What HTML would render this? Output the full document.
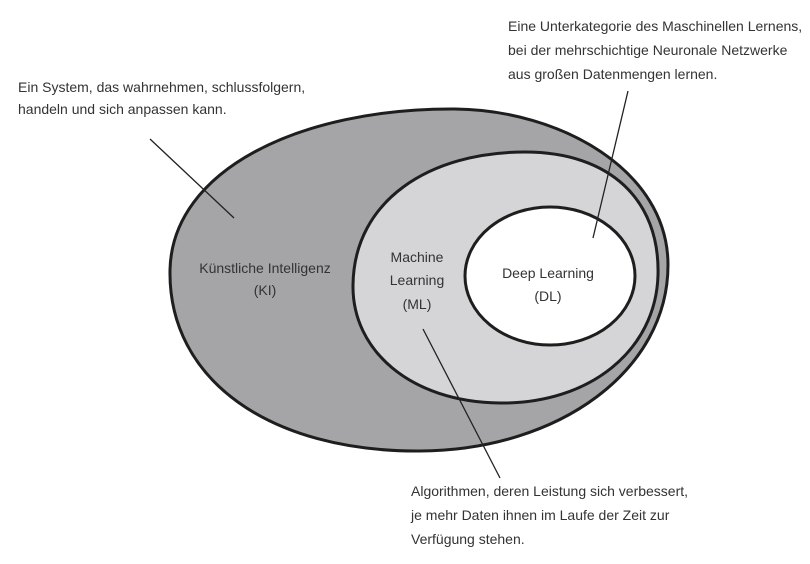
<!DOCTYPE html>
<html><head><meta charset="utf-8"><style>
html,body{margin:0;padding:0;background:#fff;}
svg{display:block;}
text{font-family:"Liberation Sans Narrow","Liberation Sans",sans-serif;fill:#333;font-size:14px;}
</style></head><body>
<svg width="810" height="564" viewBox="0 0 810 564">
<path d="M455,109 C560,110 668,170 668,265 C668,370 560,450 420,451 C270,452 168,380 170,270 C172,170 300,108 455,109 Z" fill="#a5a5a7" stroke="#1e1e1e" stroke-width="3"/>
<path d="M525,152 C610,152 660,200 658,275 C656,350 590,404 500,403 C410,402 352,350 353,285 C354,200 430,152 525,152 Z" fill="#d5d5d7" stroke="#1e1e1e" stroke-width="3"/>
<ellipse cx="550" cy="276" rx="85" ry="69" fill="#fff" stroke="#1e1e1e" stroke-width="3"/>
<line x1="150" y1="139" x2="234" y2="218" stroke="#222" stroke-width="1.3"/>
<line x1="593" y1="238" x2="628" y2="91" stroke="#222" stroke-width="1.3"/>
<line x1="423" y1="329" x2="500" y2="478" stroke="#222" stroke-width="1.3"/>
<text x="18" y="92">Ein System, das wahrnehmen, schlussfolgern,</text>
<text x="18" y="114">handeln und sich anpassen kann.</text>
<text x="508" y="31">Eine Unterkategorie des Maschinellen Lernens,</text>
<text x="508" y="55">bei der mehrschichtige Neuronale Netzwerke</text>
<text x="508" y="79">aus großen Datenmengen lernen.</text>
<text x="265" y="273" text-anchor="middle">Künstliche Intelligenz</text>
<text x="265" y="295" text-anchor="middle">(KI)</text>
<text x="417" y="262" text-anchor="middle">Machine</text>
<text x="417" y="285" text-anchor="middle">Learning</text>
<text x="417" y="309" text-anchor="middle">(ML)</text>
<text x="548" y="278" text-anchor="middle">Deep Learning</text>
<text x="548" y="301" text-anchor="middle">(DL)</text>
<text x="411" y="496">Algorithmen, deren Leistung sich verbessert,</text>
<text x="411" y="520">je mehr Daten ihnen im Laufe der Zeit zur</text>
<text x="411" y="544">Verfügung stehen.</text>
</svg>
</body></html>
